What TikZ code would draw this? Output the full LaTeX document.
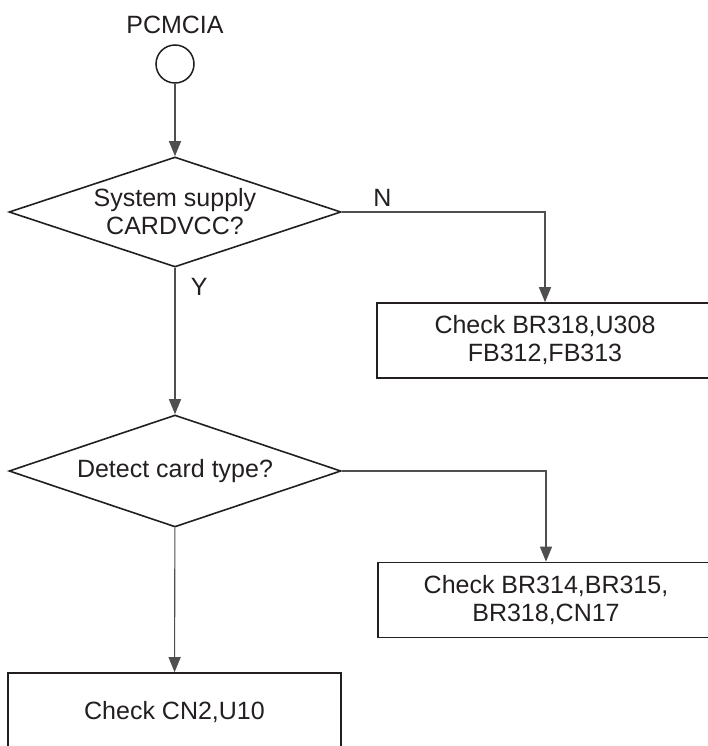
\documentclass[tikz,border=0pt]{standalone}
\usepackage{fontspec}
\setmainfont{Liberation Sans}
\usepackage{tikz}
\usetikzlibrary{arrows.meta, positioning, shapes.geometric}
\definecolor{flowink}{RGB}{35, 31, 32}
\definecolor{flowline}{RGB}{80, 78, 79}

\begin{document}
\begin{tikzpicture}[
        x=1pt, y=-1pt,
        font=\fontsize{25}{28}\selectfont,
        every node/.style={text=flowink},
        startpt/.style={circle, draw=flowink, line width=1.5pt, minimum size=38pt, inner sep=0pt},
        decide/.style={diamond, aspect=3, draw=flowink, line width=1.6pt, minimum width=332pt, minimum height=110pt, inner sep=0pt, align=center},
        checkbox/.style={rectangle, draw=flowink, line width=1.6pt, minimum width=336pt, minimum height=75pt, align=center},
        arrow/.style={-{Triangle[length=15pt, width=12pt]}, line width=1.1pt, draw=flowline}
    ]
        \useasboundingbox (0,0) rectangle (708,746);
        \clip (0,0) rectangle (708,746);
        \node[startpt] (start) at (175,64) {};
        \node[above=7pt of start] (title) {PCMCIA};
        \node[decide] (supply) at (175,212) {System supply\\CARDVCC?};
        \node[checkbox] (vccchk) at (545,340.5) {Check BR318,U308\\FB312,FB313};
        \node[decide, minimum height=112pt] (detect) at (175,471) {Detect card type?};
        \node[checkbox] (typechk) at (546,600) {Check BR314,BR315,\\BR318,CN17};
        \node[checkbox, minimum width=333pt, minimum height=78pt] (cnchk) at (174.5,712) {Check CN2,U10};
        \draw[arrow] (start) -- (supply);
        \draw[arrow] (supply) -- node[pos=0.13, right=12pt] (yes) {Y} (detect);
        \draw[arrow] (supply.east) -| node[pos=0.1, above=2pt] (no) {N} (vccchk);
        \draw[arrow] (detect.east) -| (typechk);
        \draw[arrow] (detect) -- (cnchk);
    \end{tikzpicture}
\end{document}
